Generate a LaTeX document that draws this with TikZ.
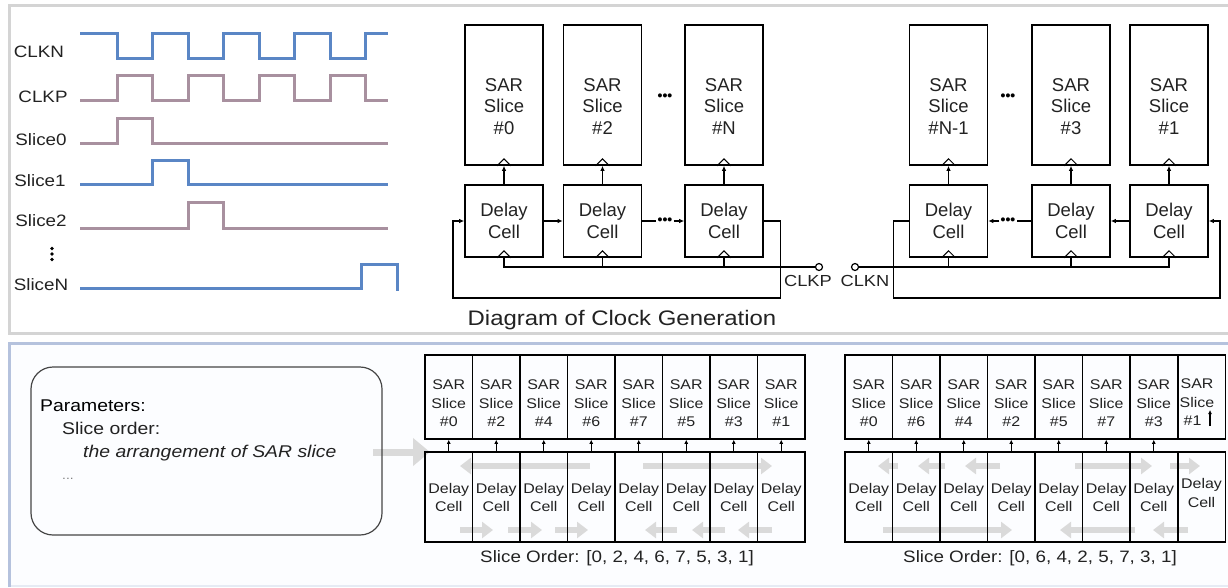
\documentclass[tikz,border=0pt]{standalone}
\usepackage{fontspec}
\setmainfont{Liberation Sans}
\newfontfamily\wfont{Liberation Sans}[FakeStretch=1.14]
\usetikzlibrary{arrows.meta,calc}
\definecolor{wblue}{HTML}{5A86C5}
\definecolor{wpurp}{HTML}{A8909F}
\definecolor{txt}{HTML}{222222}
\definecolor{gbar}{HTML}{DADADA}
\definecolor{ptop}{HTML}{D4D4D4}
\definecolor{pbot}{HTML}{B5C2DD}
\definecolor{pbotl}{HTML}{E6EBF4}
\definecolor{pbg}{HTML}{FCFDFF}
\definecolor{pbox}{HTML}{464646}
\pgfdeclarelayer{bg}
\pgfsetlayers{bg,main}
\tikzset{
  wave/.style={line width=3pt, line join=miter},
  bigsar/.style={draw=black, line width=1.6pt, minimum width=78pt, minimum height=140pt, inner sep=0pt},
  bigtxt/.style={align=center, inner sep=0pt, text=txt, font=\fontsize{18.5}{21.5}\selectfont},
  bigdel/.style={draw=black, line width=1.6pt, minimum width=78pt, minimum height=72pt, inner sep=0pt, align=center, text=txt, font=\fontsize{18.5}{21.5}\selectfont},
  clk/.style={line width=1pt, line join=miter},
  wire/.style={line width=1.3pt},
  arr/.style={line width=1.3pt, -{Latex[length=5pt,width=4.5pt]}},
  dotsn/.style={inner sep=1pt, font=\bfseries\fontsize{14}{14}\selectfont},
  term/.style={circle, draw=black, fill=white, line width=1.2pt, inner sep=0pt, minimum size=7pt},
  lab16/.style={inner sep=0pt, text=txt, font=\wfont\fontsize{16}{18}\selectfont},
  wlab/.style={inner sep=0pt, text=txt, font=\wfont\fontsize{16.5}{18}\selectfont},
  smsar/.style={draw=black, line width=1.5pt, minimum width=47.5pt, minimum height=84pt, inner sep=0pt},
  smtxt/.style={align=center, inner sep=0pt, text=txt, font=\wfont\fontsize{14}{18.5}\selectfont},
  smdel/.style={draw=black, line width=1.5pt, minimum width=47.5pt, minimum height=90pt, inner sep=0pt, align=center, text=txt, font=\wfont\fontsize{14}{18}\selectfont},
  sarr/.style={line width=1.1pt, -{Latex[length=4pt,width=4pt]}},
  garrow/.style={draw=gbar, line width=6pt, -{Triangle[length=11pt,width=16pt]}},
  ptxt/.style={inner sep=0pt, text=txt, font=\wfont\fontsize{17}{20}\selectfont},
}
\begin{document}
\begin{tikzpicture}[x=1pt,y=-1pt]
\useasboundingbox (0,0) rectangle (1228,587);

% ---------- panels ----------
\begin{pgfonlayer}{bg}
\draw[ptop, line width=3pt] (9.5,5.5) rectangle (1300,333);
\fill[pbg] (9.5,343.5) rectangle (1300,586);
\draw[pbotl, line width=2pt] (9.5,586) -- (1300,586);
\draw[pbot, line width=3pt] (9.5,587) -- (9.5,343.5) -- (1300,343.5);
\end{pgfonlayer}

% ---------- timing diagram ----------
\node[wlab] (lclkn) at (39,52) {CLKN};
\node[wlab] (lclkp) at (43,97) {CLKP};
\node[wlab] (ls0) at (41,140) {Slice0};
\node[wlab] (ls1) at (40,181) {Slice1};
\node[wlab] (ls2) at (41,221) {Slice2};
\node[wlab] (lsn) at (41,285) {SliceN};
\fill[black] (52,248.5) circle (1.8pt) (52,254) circle (1.8pt) (52,259.5) circle (1.8pt);

\draw[wave, wblue] (80,33) -- (117,33) -- (117,58) -- (152,58) -- (152,33) -- (188,33) -- (188,58) -- (223,58) -- (223,33) -- (259,33) -- (259,58) -- (294,58) -- (294,33) -- (330,33) -- (330,58) -- (365,58) -- (365,33) -- (388,33);
\draw[wave, wpurp] (80,100) -- (117,100) -- (117,75) -- (152,75) -- (152,100) -- (188,100) -- (188,75) -- (223,75) -- (223,100) -- (259,100) -- (259,75) -- (294,75) -- (294,100) -- (330,100) -- (330,75) -- (365,75) -- (365,100) -- (388,100);
\draw[wave, wpurp] (80,143) -- (117,143) -- (117,118) -- (152,118) -- (152,143) -- (388,143);
\draw[wave, wblue] (80,184) -- (152,184) -- (152,160) -- (188,160) -- (188,184) -- (388,184);
\draw[wave, wpurp] (80,228) -- (188,228) -- (188,202) -- (223,202) -- (223,228) -- (388,228);
\draw[wave, wblue] (80,288) -- (361,288) -- (361,264) -- (397,264) -- (397,291);

% ---------- clock generation ----------
\foreach \n/\x/\l in {0/504/0,2/602.5/2,N/724/N,M/948.5/N-1,3/1071/3,1/1169/1}{
  \node[bigsar] (s\n) at (\x,95) {};
  \node[bigtxt] (t\n) at (\x,106.5) {SAR\\Slice\\\#\l};
  \node[bigdel] (d\n) at (\x,221) {Delay\\Cell};
  \draw[arr] (d\n.north) -- (s\n.south);
  \draw[clk] ($(s\n.south)+(-7,0)$) -- ($(s\n.south)+(0,-7)$) -- ($(s\n.south)+(7,0)$);
  \draw[clk] ($(d\n.south)+(-7,0)$) -- ($(d\n.south)+(0,-7)$) -- ($(d\n.south)+(7,0)$);
}
\node[dotsn] (q3) at (665,97) {•••};
\node[dotsn] (q4) at (1008,97) {•••};

% left chain
\draw[arr] (d0.east) -- (d2.west);
\node[dotsn] (q1) at (665,221) {•••};
\draw[wire] (d2.east) -- (q1.west);
\draw[arr] (q1.east) -- (dN.west);
\draw[arr] (dN.east) -- ++(17,0) |- (453,298) |- (d0.west);
\node[term] (ckp) at (819,267) {};
\draw[wire] (ckp.west) -| (d0.south);
\draw[wire] (d2.south) -- (d2.south |- ckp.center);
\draw[wire] (dN.south) -- (dN.south |- ckp.center);
\node[lab16] (lckp) at (808,281) {CLKP};

% right chain
\draw[arr] (d1.west) -- (d3.east);
\node[dotsn] (q2) at (1008,221) {•••};
\draw[wire] (d3.west) -- (q2.east);
\draw[arr] (q2.west) -- (dM.east);
\draw[arr] (dM.west) -- ++(-15,0) |- (1220,298) |- (d1.east);
\node[term] (ckn) at (855,267) {};
\draw[wire] (ckn.east) -| (d1.south);
\draw[wire] (dM.south) -- (dM.south |- ckn.center);
\draw[wire] (d3.south) -- (d3.south |- ckn.center);
\node[lab16] (lckn) at (865,281) {CLKN};

\node[inner sep=0pt, text=txt, font=\wfont\fontsize{21}{24}\selectfont] (cap1) at (622,320) {Diagram of Clock Generation};

% ---------- parameters ----------
\node[draw=pbox, line width=1.2pt, rounded corners=22pt, minimum width=351pt, minimum height=168pt] (par) at (206.5,451) {};
\node[ptxt, anchor=base west, text=black] (p1) at (40,411) {Parameters:};
\node[ptxt, anchor=base west] (p2) at (62,434) {Slice order:};
\node[ptxt, anchor=base west, font=\wfont\itshape\fontsize{17}{20}\selectfont] (p3) at (83,457) {the arrangement of SAR slice};
\node[ptxt, anchor=base west, text=gray, font=\wfont\fontsize{12}{14}\selectfont] (p4) at (62,479) {...};

% ---------- bottom arrays ----------
\foreach \i/\l in {1/0,2/2,3/4,4/6,5/7,6/5,7/3,8/1}{
  \pgfmathsetmacro\cx{425+47.5*(\i-0.5)}
  \node[smsar] (a\i) at (\cx,397) {};
  \node[smtxt] (at\i) at (\cx,403.5) {SAR\\Slice\\\#\l};
  \node[smdel] (b\i) at (\cx,497) {Delay\\Cell};
  \draw[sarr] (b\i.north) -- (a\i.south);
}
\foreach \i/\l in {1/0,2/6,3/4,4/2,5/5,6/7,7/3}{
  \pgfmathsetmacro\cx{845+47.5*(\i-0.5)}
  \node[smsar] (c\i) at (\cx,397) {};
  \node[smtxt] (ct\i) at (\cx,403.5) {SAR\\Slice\\\#\l};
  \node[smdel] (e\i) at (\cx,497) {Delay\\Cell};
  \draw[sarr] (e\i.north) -- (c\i.south);
}
\node[smsar] (c8) at (1201.5,397) {};
\node[smtxt] (ct8) at (1197,402.5) {SAR\\Slice\\\#1\hphantom{1}};
\node[smdel] (e8) at (1201.5,497) {};
\node[smtxt] (et8) at (1201.5,493) {Delay\\Cell};
\coordinate (k1) at (1210,426);
\coordinate (k2) at (1210,410);
\draw[sarr, line width=1.4pt] (k1) -- (k2);

\node[wlab] (cap2) at (617,558) {Slice Order: [0, 2, 4, 6, 7, 5, 3, 1]};
\node[wlab] (cap3) at (1040,558) {Slice Order: [0, 6, 4, 2, 5, 7, 3, 1]};

% grey direction arrows
\begin{pgfonlayer}{bg}
\draw[draw=gbar, line width=7pt, -{Triangle[length=17pt,width=27pt]}] (373,452) -- (430,452);
\draw[garrow] (590,466) -- (460,466);
\draw[garrow] (643,466) -- (772,466);
\draw[garrow] (460,530) -- (493,530);
\draw[garrow] (508,530) -- (542,530);
\draw[garrow] (555,530) -- (588,530);
\draw[garrow] (677,530) -- (645,530);
\draw[garrow] (725,530) -- (692,530);
\draw[garrow] (772,530) -- (738,530);
\draw[garrow] (898,466) -- (878,466);
\draw[garrow] (945,466) -- (918,466);
\draw[garrow] (1000,466) -- (965,466);
\draw[garrow] (1075,466) -- (1152,466);
\draw[garrow] (1170,466) -- (1200,466);
\draw[garrow] (883,530) -- (1012,530);
\draw[garrow] (1135,530) -- (1060,530);
\draw[garrow] (1188,530) -- (1153,530);
\end{pgfonlayer}
\end{tikzpicture}
\end{document}
